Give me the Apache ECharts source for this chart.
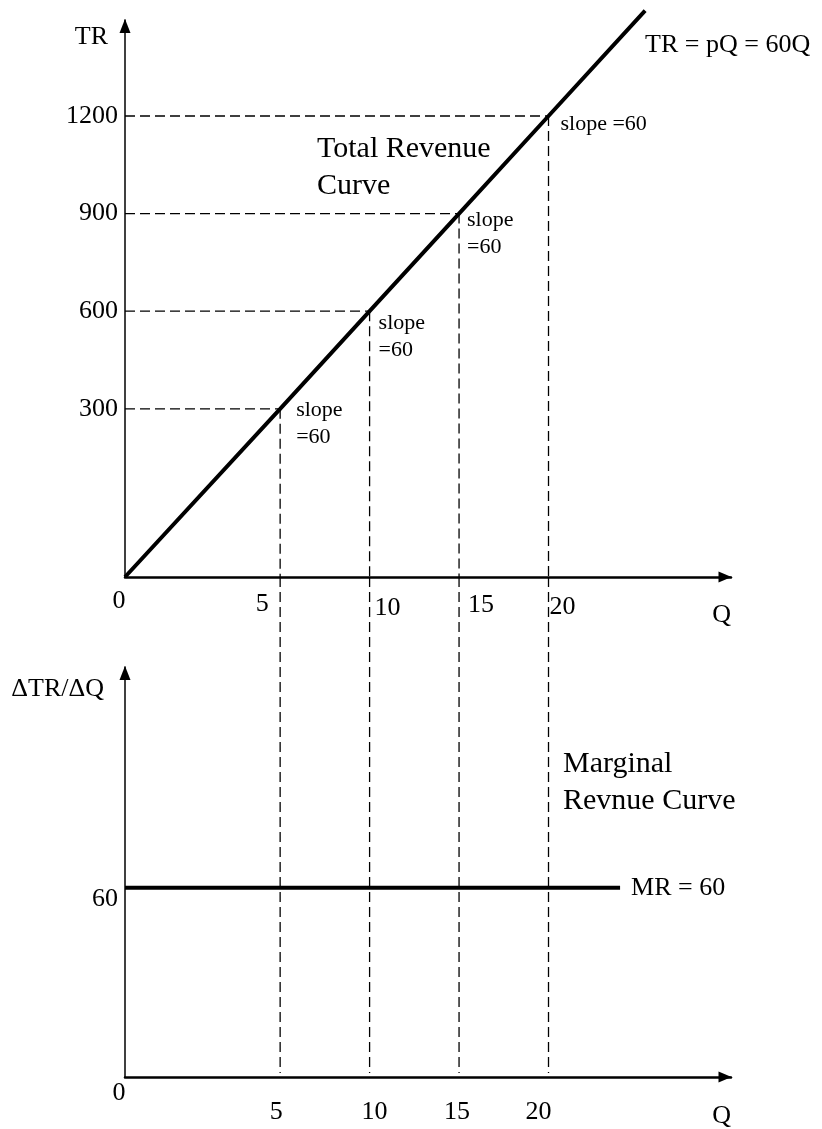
<!DOCTYPE html>
<html><head><meta charset="utf-8">
<script src="https://cdn.jsdelivr.net/npm/echarts@6/dist/echarts.min.js"></script>
<style>html,body{margin:0;padding:0;background:#fff}#c{width:822px;height:1129px}</style>
</head><body><div id="c"></div>
<script>
// ---------------- data ----------------
const qTicks = [0, 5, 10, 15, 20];            // Q tick labels
const trTicks = [300, 600, 900, 1200];        // TR tick labels
const mrTicks = [60];                         // MR tick label
const trQ = [0, 5, 10, 15, 20, 25.4];         // total revenue curve, Q
const trValues = [0, 300, 600, 900, 1200, 1524]; // total revenue curve, TR
const mrQ = [0, 24];                          // marginal revenue, Q
const mrValues = [60, 60];                    // marginal revenue, MR
const markQ = [5, 10, 15, 20];                // guide points, Q
const markTR = [300, 600, 900, 1200];         // guide points, TR
const slopeLabels = ['slope\n=60', 'slope\n=60', 'slope\n=60', 'slope =60'];

// ---------------- layout / style ----------------
const FONT = "'Liberation Serif','Times New Roman',Times,serif";
const BLACK = '#000';
// [horizontal shift, rich padding-top]
const topLabelShift = {0: [-6, 22], 5: [-18, 28], 10: [18, 36], 15: [22, 30], 20: [14, 34]};
const botLabelShift = {0: [-6, 6], 5: [-4, 44], 10: [5, 44], 15: [-2, 44], 20: [-10, 44]};
const slopeLabelPos = [[16, -12], [9, -1], [8, -7], [12, -5]];
const BOT_DASH_TOP = 158.5, BOT_DASH_BOTTOM = 1.3;
const dash = {color: BLACK, width: 1.3, type: [10, 5]};

function richFor(shift) {
  const r = {};
  Object.keys(shift).forEach(k => {
    const [dx, pt] = shift[k];
    r['t' + k] = {fontSize: 26, fontFamily: FONT, color: BLACK, lineHeight: 26,
      padding: [pt, dx < 0 ? -2 * dx : 0, 0, dx > 0 ? 2 * dx : 0]};
  });
  return r;
}

// value axis for Q (with the stretched 0-5 span of the drawing)
function xAxisCfg(gridIndex, shift, namePadTop) {
  return {
    type: 'value', gridIndex, position: 'bottom', min: 0, max: 30.2,
    breaks: [{start: 0, end: 5, gap: '25.6%'}],
    breakArea: {show: false, itemStyle: {opacity: 0}},
    axisLine: {show: false, onZero: false},
    axisTick: {show: false}, splitLine: {show: false},
    axisLabel: {show: true, customValues: qTicks, margin: 0, verticalAlign: 'top',
      formatter: v => '{t' + v + '|' + v + '}', rich: richFor(shift)},
    name: 'Q', nameLocation: 'end', nameGap: 0,
    nameTextStyle: {fontSize: 26, fontFamily: FONT, color: BLACK, align: 'right',
      verticalAlign: 'top', lineHeight: 26, padding: [namePadTop, 0, 0, 0]}
  };
}
// plain axis used only to draw the continuous arrowed axis line
function lineAxis(kind, gridIndex, width, size) {
  return {
    type: 'value', gridIndex, position: kind === 'x' ? 'bottom' : 'left', min: 0, max: 1,
    axisLine: {show: true, onZero: false, symbol: ['none', 'triangle'], symbolSize: size,
      symbolOffset: [0, -6], lineStyle: {color: BLACK, width}},
    axisTick: {show: false}, axisLabel: {show: false}, splitLine: {show: false}
  };
}

const series = [];
// total revenue curve
series.push({
  type: 'line', xAxisIndex: 0, yAxisIndex: 0, symbol: 'none', clip: false, z: 5,
  data: trQ.map((q, i) => [q, trValues[i]]),
  lineStyle: {color: BLACK, width: 4},
  endLabel: {show: true, formatter: 'TR = pQ = 60Q', fontSize: 26, fontFamily: FONT, color: BLACK,
    align: 'left', verticalAlign: 'middle', distance: 0, offset: [0, 35]}
});
// marginal revenue line
series.push({
  type: 'line', xAxisIndex: 1, yAxisIndex: 1, symbol: 'none', z: 5,
  data: mrQ.map((q, i) => [q, mrValues[i]]),
  lineStyle: {color: BLACK, width: 4},
  endLabel: {show: true, formatter: 'MR = 60', fontSize: 26, fontFamily: FONT, color: BLACK,
    align: 'left', verticalAlign: 'middle', distance: 11, offset: [0, 0]}
});
// dashed guides
markQ.forEach((q, i) => {
  series.push({type: 'line', xAxisIndex: 0, yAxisIndex: 0, symbol: 'none', silent: true,
    data: [[0, markTR[i]], [q, markTR[i]]], lineStyle: dash});
  series.push({type: 'line', xAxisIndex: 0, yAxisIndex: 0, symbol: 'none', silent: true,
    data: [[q, markTR[i]], [q, 0]], lineStyle: dash});
  series.push({type: 'line', xAxisIndex: 1, yAxisIndex: 1, symbol: 'none', silent: true, clip: false,
    data: [[q, BOT_DASH_TOP], [q, BOT_DASH_BOTTOM]], lineStyle: dash});
});
// slope annotations
series.push({
  type: 'scatter', xAxisIndex: 0, yAxisIndex: 0, symbolSize: 0, silent: true, z: 6,
  data: markQ.map((q, i) => ({
    value: [q, markTR[i]],
    label: {show: true, formatter: slopeLabels[i], position: slopeLabelPos[i], opacity: 1,
      align: 'left', verticalAlign: 'top', fontSize: 22, lineHeight: 27, fontFamily: FONT, color: BLACK}
  }))
});

const option = {
  backgroundColor: '#fff',
  animation: false,
  grid: [
    {left: 125, top: 20, width: 606, height: 557, containLabel: false},
    {left: 125, top: 667, width: 606, height: 411, containLabel: false}
  ],
  xAxis: [
    xAxisCfg(0, topLabelShift, 25), xAxisCfg(1, botLabelShift, 26),
    lineAxis('x', 0, 2.5, [11, 13]), lineAxis('x', 1, 2.5, [11, 13])
  ],
  yAxis: [
    {type: 'value', gridIndex: 0, position: 'left', min: 0, max: 1495,
      breaks: [{start: 0, end: 300, gap: '30.2%'}],
      breakArea: {show: false, itemStyle: {opacity: 0}},
      axisLine: {show: false, onZero: false},
      axisTick: {show: false}, splitLine: {show: false},
      axisLabel: {customValues: trTicks, margin: 7, color: BLACK, fontSize: 26, fontFamily: FONT,
        formatter: v => String(v)},
      name: 'TR', nameLocation: 'end', nameGap: 0,
      nameTextStyle: {fontSize: 26, fontFamily: FONT, color: BLACK, align: 'right', verticalAlign: 'top',
        lineHeight: 26, padding: [4, 17, 0, 0]}},
    {type: 'value', gridIndex: 1, position: 'left', min: 0, max: 130,
      axisLine: {show: false, onZero: false},
      axisTick: {show: false}, splitLine: {show: false},
      axisLabel: {customValues: mrTicks, margin: 7, formatter: v => '{a|' + v + '}',
        rich: {a: {fontSize: 26, fontFamily: FONT, color: BLACK, lineHeight: 26, padding: [22, 0, 0, 0]}}},
      name: 'ΔTR/ΔQ', nameLocation: 'end', nameGap: 0,
      nameTextStyle: {fontSize: 26, fontFamily: FONT, color: BLACK, align: 'right', verticalAlign: 'top',
        lineHeight: 26, padding: [9, 21, 0, 0]}},
    lineAxis('y', 0, 1.5, [11, 14]), lineAxis('y', 1, 1.5, [11, 14])
  ],
  graphic: [
    {type: 'text', left: 317, top: 131, silent: true,
      style: {text: 'Total Revenue\nCurve', font: '30px ' + FONT, lineHeight: 37, fill: BLACK}},
    {type: 'text', left: 563, top: 746, silent: true,
      style: {text: 'Marginal\nRevnue Curve', font: '30px ' + FONT, lineHeight: 37, fill: BLACK}}
  ],
  series
};
const chart = echarts.init(document.getElementById('c'), null, {renderer: 'canvas'});
chart.setOption(option);
</script>
</body></html>
